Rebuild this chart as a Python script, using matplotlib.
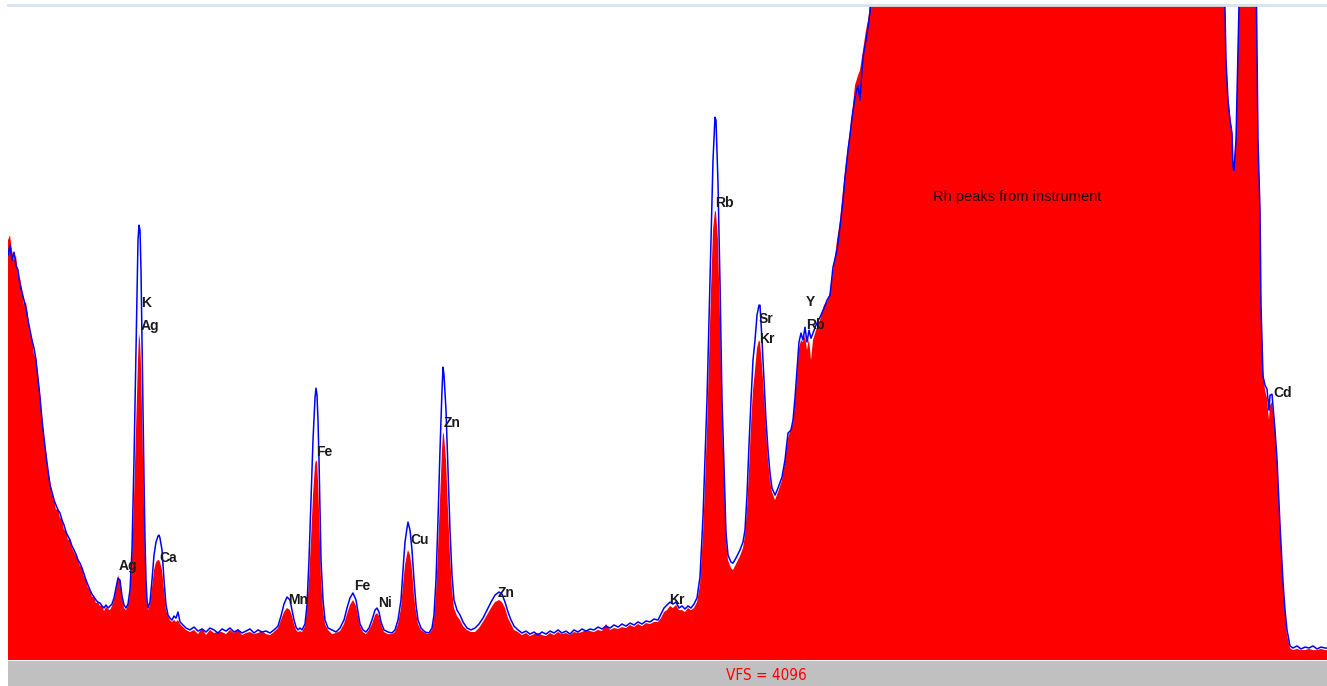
import matplotlib
matplotlib.use('Agg')
import matplotlib.pyplot as plt

# channel number and counts (VFS = 4096)
chan = [0, 2, 4, 6, 8, 10, 12, 14, 16, 18, 20, 22, 24, 26, 28, 30, 32, 34, 36, 38,
        40, 42, 44, 46, 48, 50, 52, 54, 56, 58, 60, 62, 64, 66, 68, 70, 72, 74, 76, 78,
        80, 82, 84, 86, 88, 90, 92, 94, 96, 98, 100, 102, 104, 106, 108, 110, 112, 114, 116, 118,
        120, 122, 124, 126, 128, 130, 131, 132, 133, 134, 135, 136, 137, 138, 139, 140, 142, 144, 146, 148,
        150, 151, 152, 154, 156, 158, 160, 162, 164, 166, 168, 170, 172, 174, 178, 182, 186, 190, 194, 198,
        202, 206, 210, 214, 218, 222, 226, 230, 234, 238, 242, 246, 250, 254, 258, 262, 266, 270, 273, 276,
        279, 282, 284, 286, 288, 290, 292, 294, 297, 299, 301, 303, 305, 307, 308, 309, 310, 311, 312, 313,
        315, 317, 320, 324, 328, 332, 336, 339, 342, 345, 348, 350, 352, 355, 358, 361, 364, 367, 369, 371,
        373, 376, 380, 384, 387, 390, 393, 395, 397, 399, 400, 402, 404, 406, 408, 410, 413, 417, 421, 424,
        426, 428, 430, 432, 434, 435, 436, 438, 440, 442, 444, 446, 449, 452, 455, 459, 463, 467, 471, 475,
        479, 483, 487, 491, 494, 497, 500, 503, 506, 510, 514, 518, 522, 526, 530, 534, 538, 542, 546, 550,
        554, 558, 562, 566, 570, 574, 578, 582, 586, 590, 594, 598, 602, 606, 610, 614, 618, 622, 626, 630,
        634, 638, 642, 646, 650, 653, 656, 659, 662, 665, 668, 671, 674, 677, 680, 683, 686, 689, 692, 695,
        697, 699, 701, 703, 705, 707, 708, 710, 712, 714, 716, 718, 720, 723, 725, 728, 732, 735, 737, 739,
        741, 743, 745, 747, 749, 751, 752, 754, 756, 758, 760, 762, 764, 767, 770, 774, 777, 780, 783, 785,
        787, 789, 791, 793, 795, 797, 799, 801, 803, 805, 808, 812, 816, 819, 822, 825, 829, 832, 835, 837,
        840, 842, 844, 847, 850, 852, 855, 858, 860, 862, 864, 872, 1212, 1216, 1218, 1220, 1222, 1224, 1225, 1226,
        1228, 1230, 1232, 1242, 1248, 1250, 1252, 1253, 1255, 1257, 1259, 1261, 1262, 1264, 1267, 1269, 1272, 1275, 1277, 1279,
        1282, 1285, 1289, 1293, 1297, 1301, 1305, 1309, 1313, 1317, 1319]

blue = [2531, 2594, 2500, 2550, 2469, 2438, 2344, 2300, 2250, 2200, 2125, 2062, 2000, 1950, 1875, 1762, 1644, 1500, 1388, 1281,
        1188, 1094, 1050, 1000, 969, 938, 919, 875, 844, 800, 775, 750, 712, 688, 662, 625, 606, 575, 538, 500,
        469, 438, 412, 394, 375, 362, 356, 338, 325, 344, 325, 338, 350, 388, 450, 512, 500, 400, 344, 325,
        350, 438, 688, 1250, 1938, 2625, 2719, 2688, 2438, 2000, 1562, 1125, 750, 500, 375, 325, 362, 500, 656, 738,
        775, 781, 762, 688, 500, 344, 281, 262, 250, 275, 262, 300, 238, 225, 200, 188, 206, 181, 194, 175,
        200, 188, 169, 194, 181, 200, 175, 188, 169, 181, 194, 169, 188, 175, 181, 169, 188, 212, 275, 350,
        394, 375, 312, 250, 206, 188, 200, 188, 225, 344, 625, 1000, 1375, 1638, 1700, 1656, 1500, 1250, 938, 625,
        375, 250, 200, 188, 175, 200, 250, 325, 388, 419, 375, 300, 225, 188, 175, 200, 250, 312, 325, 300,
        238, 188, 175, 169, 188, 250, 375, 562, 738, 825, 862, 812, 688, 500, 344, 250, 200, 175, 169, 200,
        281, 500, 875, 1312, 1688, 1831, 1781, 1562, 1188, 812, 531, 375, 312, 281, 238, 200, 188, 200, 225, 262,
        312, 362, 406, 425, 412, 362, 300, 250, 212, 188, 169, 181, 162, 175, 156, 175, 162, 181, 169, 188,
        169, 181, 162, 188, 175, 194, 181, 194, 188, 206, 194, 212, 200, 219, 206, 225, 212, 231, 219, 238,
        225, 244, 238, 256, 250, 288, 325, 344, 362, 350, 362, 325, 338, 319, 338, 325, 350, 388, 519, 894,
        1250, 1625, 2125, 2625, 3125, 3394, 3375, 2981, 2356, 1625, 1206, 794, 656, 612, 606, 638, 688, 738, 812, 1031,
        1344, 1625, 1875, 2000, 2156, 2219, 2219, 2000, 1750, 1500, 1312, 1169, 1075, 1031, 1075, 1144, 1250, 1419, 1438, 1500,
        1638, 1812, 1988, 2044, 2000, 2081, 1988, 2062, 2012, 2044, 2094, 2144, 2200, 2250, 2281, 2456, 2562, 2706, 2875, 3019,
        3188, 3281, 3394, 3519, 3594, 3500, 3769, 3875, 3956, 4050, 4375, 5000, 5000, 4375, 3750, 3500, 3375, 3294, 3081, 3062,
        3250, 3812, 4375, 5000, 4375, 3250, 2812, 2212, 1775, 1719, 1694, 1562, 1656, 1662, 1438, 1256, 844, 488, 312, 188,
        88, 75, 88, 69, 81, 75, 88, 69, 81, 75, 75]

red = [2625, 2656, 2562, 2500, 2531, 2406, 2388, 2325, 2219, 2238, 2156, 2038, 2012, 1906, 1900, 1781, 1662, 1531, 1375, 1312,
       1175, 1125, 1031, 1019, 938, 950, 888, 881, 812, 819, 750, 762, 700, 675, 650, 631, 588, 581, 519, 506,
       450, 444, 394, 400, 356, 362, 338, 344, 306, 331, 319, 312, 338, 375, 438, 531, 488, 388, 325, 312,
       344, 406, 625, 1000, 1438, 1875, 2044, 2000, 1844, 1562, 1250, 938, 625, 438, 344, 312, 344, 450, 562, 612,
       625, 625, 612, 562, 438, 312, 275, 250, 238, 250, 238, 250, 225, 212, 188, 175, 188, 162, 200, 156,
       188, 169, 175, 175, 162, 188, 169, 194, 156, 169, 175, 162, 169, 181, 162, 156, 175, 200, 250, 300,
       325, 312, 275, 225, 188, 175, 181, 175, 212, 312, 500, 750, 1031, 1219, 1250, 1238, 1125, 938, 719, 500,
       312, 225, 188, 162, 169, 181, 225, 288, 344, 375, 338, 275, 212, 175, 162, 188, 225, 281, 294, 275,
       225, 175, 162, 162, 175, 225, 325, 469, 594, 662, 688, 656, 562, 406, 300, 225, 188, 169, 162, 188,
       250, 406, 688, 1000, 1312, 1425, 1406, 1250, 938, 656, 438, 325, 275, 250, 212, 188, 175, 175, 200, 238,
       281, 325, 362, 375, 362, 325, 262, 225, 188, 175, 156, 169, 150, 162, 169, 156, 150, 169, 156, 175,
       162, 169, 156, 175, 169, 175, 188, 181, 175, 188, 181, 225, 188, 200, 194, 206, 200, 219, 206, 225,
       212, 231, 225, 238, 238, 262, 300, 312, 338, 325, 344, 312, 312, 300, 325, 312, 325, 362, 469, 781,
       1094, 1438, 1875, 2312, 2688, 2812, 2800, 2625, 2125, 1500, 1125, 750, 625, 575, 562, 600, 650, 700, 781, 938,
       1188, 1469, 1688, 1812, 1950, 2000, 1988, 1844, 1656, 1438, 1250, 1125, 1050, 1000, 1050, 1125, 1238, 1388, 1450, 1475,
       1612, 1775, 1950, 2000, 1988, 2031, 1938, 2012, 1875, 2000, 2062, 2125, 2219, 2238, 2300, 2425, 2625, 2750, 2938, 3050,
       3219, 3312, 3406, 3594, 3656, 3688, 3812, 3938, 4000, 4094, 4375, 5000, 5000, 4375, 3781, 3531, 3406, 3312, 3125, 3112,
       3281, 3844, 4375, 5000, 4375, 3262, 2825, 2250, 1812, 1688, 1638, 1500, 1594, 1612, 1425, 1238, 825, 469, 281, 156,
       75, 62, 69, 62, 62, 69, 62, 62, 69, 62, 62]

# element labels: text, channel, counts
lab_text = ['K', 'Ag', 'Ag', 'Ca', 'Mn', 'Fe', 'Fe', 'Ni', 'Cu', 'Zn', 'Zn', 'Kr',
            'Rb', 'Sr', 'Kr', 'Y', 'Rb', 'Cd']
lab_x = [133, 133, 111, 151, 280, 308, 346, 370, 402, 436, 490, 661,
         707, 751, 751, 798, 798, 1265]
lab_y = [2231, 2088, 588, 638, 375, 1300, 462, 356, 750, 1481, 419, 375,
         2856, 2131, 2006, 2238, 2094, 1669]

fig = plt.figure(figsize=(13.27, 6.86), dpi=100)
ax = fig.add_axes([8/1327, 26/686, 1 - 8/1327, 655/686])
ax.fill_between(chan, red, 0, color='#ff0000', lw=0)
ax.plot(chan, blue, color='#0000ff', lw=1.1)
ax.set_xlim(0, 1319)
ax.set_ylim(0, 4096)
ax.set_xticks([])
ax.set_yticks([])
for s in ['left', 'right', 'bottom']:
    ax.spines[s].set_visible(False)
ax.spines['top'].set_color('#d5e3f1')
ax.spines['top'].set_linewidth(2)

for t, x, y in zip(lab_text, lab_x, lab_y):
    ax.text(x, y, t, fontsize=10, color='#1a1a1a', ha='left', va='center',
            family='Liberation Sans', fontweight='bold')
ax.text(925, 2894, 'Rh peaks from instrument', fontsize=10.5, color='#260000',
        ha='left', va='center', family='Liberation Sans')

# grey status bar
bar = fig.add_axes([8/1327, 0, 1 - 8/1327, 25/686])
bar.set_facecolor('#c0c0c0')
bar.set_xticks([])
bar.set_yticks([])
for s in bar.spines.values():
    s.set_visible(False)
bar.text(0.575, 0.4, 'VFS = 4096', color='#ff0000', fontsize=11,
         ha='center', va='center', transform=bar.transAxes,
         family=['Liberation Sans Narrow', 'DejaVu Sans'], fontstretch='condensed')

fig.savefig('out.png', dpi=100)
